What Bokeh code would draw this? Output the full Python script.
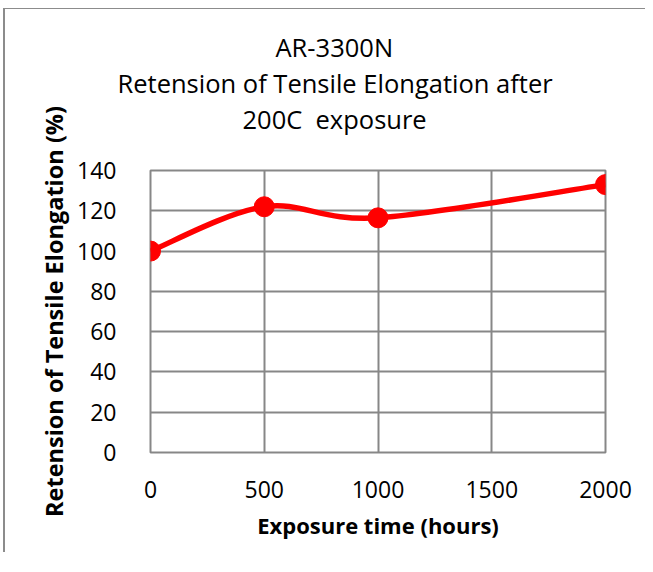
from bokeh.plotting import figure
from bokeh.embed import file_html
from bokeh.resources import INLINE
from bokeh.models import Range1d, FixedTicker, Title

# Data
hours = [0, 500, 1000, 2000]
retention = [100, 122, 116.5, 133]
x_ticks = [0, 500, 1000, 1500, 2000]
y_ticks = [0, 20, 40, 60, 80, 100, 120, 140]
title_lines = ["AR-3300N", "Retension of Tensile Elongation after", "200C\u00a0\u00a0exposure"]
x_title = "Exposure time (hours)"
y_title = "Retension of Tensile Elongation (%)"

FONT = "Open Sans"
GRID = "#878787"

p = figure(width=648, height=562, output_backend="svg", toolbar_location=None,
           x_range=Range1d(0, 2000), y_range=Range1d(0, 140),
           min_border_left=145, min_border_top=161, min_border_right=40,
           min_border_bottom=100, frame_width=455, frame_height=282,
           margin=(8, 0, 0, 3),
           styles={"border-top": "1px solid #8c8c8c", "border-left": "2px solid #8c8c8c"})

p.title = None
# blank spacer between the title block and the plot area
p.add_layout(Title(text="\u00a0", text_font=FONT, text_font_size="24px",
                   standoff=0, offset=0), "above")
# left offsets (px from plot-area left) that centre each line over the whole chart
title_offsets = [125, -33, 92]
for line, off in reversed(list(zip(title_lines, title_offsets))):
    t = Title(text=line, align="left", text_font=FONT, text_font_size="25.5px",
              text_font_style="normal", text_color="#000000",
              standoff=0, offset=off)
    p.add_layout(t, "above")

for ax in (p.xaxis[0], p.yaxis[0]):
    ax.axis_line_color = None
    ax.major_tick_line_color = None
    ax.minor_tick_line_color = None
    ax.major_label_text_font = FONT
    ax.major_label_text_font_size = "23px"
    ax.major_label_text_color = "#000000"
    ax.axis_label_text_font = FONT
    ax.axis_label_text_font_style = "bold"
    ax.axis_label_text_color = "#000000"
p.xaxis.axis_label_text_font_size = "22px"
p.yaxis.axis_label_text_font_size = "23.5px"

p.xaxis.ticker = FixedTicker(ticks=x_ticks)
p.yaxis.ticker = FixedTicker(ticks=y_ticks)
p.xaxis.axis_label = x_title
p.yaxis.axis_label = y_title
p.xaxis.major_label_standoff = 22
p.yaxis.major_label_standoff = 28
p.xaxis.axis_label_standoff = 9
p.yaxis.axis_label_standoff = 4

p.xgrid.ticker = FixedTicker(ticks=x_ticks)
p.ygrid.ticker = FixedTicker(ticks=y_ticks)
for g in (p.xgrid[0], p.ygrid[0]):
    g.grid_line_color = GRID
    g.grid_line_width = 2
p.outline_line_color = GRID
p.outline_line_width = 2

# Smooth (Catmull-Rom style) curve through the data points
n = len(hours)
x0s, y0s, x1s, y1s, cx0, cy0, cx1, cy1 = [], [], [], [], [], [], [], []
for i in range(n - 1):
    xa, ya = hours[i], retention[i]
    xb, yb = hours[i + 1], retention[i + 1]
    xp, yp = (hours[i - 1], retention[i - 1]) if i > 0 else (xa, ya)
    xn, yn = (hours[i + 2], retention[i + 2]) if i + 2 < n else (xb, yb)
    x0s.append(xa); y0s.append(ya); x1s.append(xb); y1s.append(yb)
    cx0.append(xa + (xb - xp) / 6); cy0.append(ya + (yb - yp) / 6)
    cx1.append(xb - (xn - xa) / 6); cy1.append(yb - (yn - ya) / 6)

p.bezier(x0=x0s, y0=y0s, x1=x1s, y1=y1s, cx0=cx0, cy0=cy0, cx1=cx1, cy1=cy1,
         line_color="#FF0000", line_width=5.5)
p.scatter(hours, retention, size=20, fill_color="#FF0000", line_color="#FF0000")

p.background_fill_color = "white"
p.border_fill_color = "white"

open("out.html", "w").write(file_html(p, INLINE))
